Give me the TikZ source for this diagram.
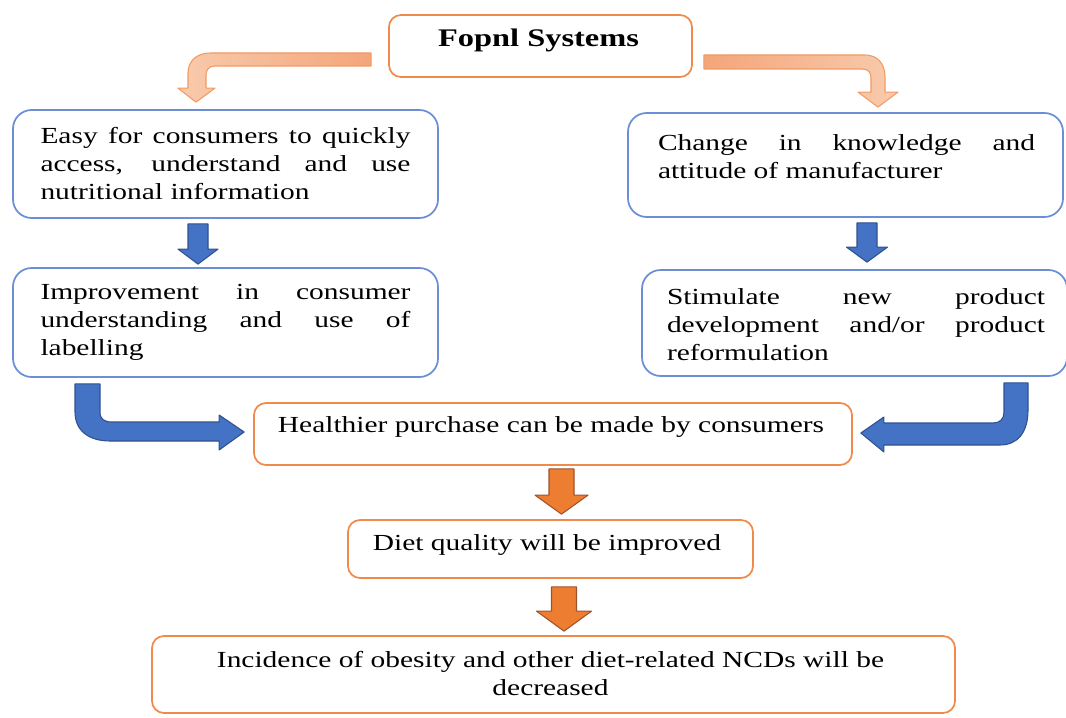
\documentclass[tikz,border=0pt]{standalone}
\usepackage{fontspec}
\setmainfont{Liberation Serif}[FakeStretch=1.28]
\usetikzlibrary{calc}
\definecolor{obord}{HTML}{F08A4B}
\definecolor{bbord}{HTML}{6A8FD6}
\definecolor{barrow}{HTML}{4472C4}
\definecolor{barrowd}{HTML}{2F528F}
\definecolor{oarrow}{HTML}{ED7D31}
\definecolor{oarrowd}{HTML}{A0522D}
\definecolor{loA}{HTML}{F8CBAD}
\definecolor{loB}{HTML}{F4A57A}
\definecolor{lob}{HTML}{F29A62}
\newcommand\BlkDown[6]{%
  \draw[#1] let \p1=#2, \p2=#3 in
   (\x1-#4*0.75pt,\y1) -- (\x1+#4*0.75pt,\y1) -- (\x1+#4*0.75pt,\y2+#6*0.75pt)
   -- (\x1+#5*0.75pt,\y2+#6*0.75pt) -- (\x1,\y2) -- (\x1-#5*0.75pt,\y2+#6*0.75pt)
   -- (\x1-#4*0.75pt,\y2+#6*0.75pt) -- cycle;}
\begin{document}
\begin{tikzpicture}[x=0.75pt,y=-0.75pt,
  bbox/.style={draw=bbord, line width=1.3pt, rounded corners=14pt, fill=white, inner sep=0pt},
  obox/.style={draw=obord, line width=1.3pt, rounded corners=9pt, fill=white, inner sep=0pt},
  txt/.style={font=\fontsize{17.25pt}{21pt}\selectfont, inner sep=0pt},
  jtxt/.style={txt, align=justify},
  bluearrow/.style={fill=barrow, draw=barrowd, line width=0.8pt, line join=round},
  orarrow/.style={fill=oarrow, draw=oarrowd, line width=0.8pt, line join=round},
  lightL/.style={left color=loA, right color=loB, draw=lob, line width=0.8pt, line join=round},
  lightR/.style={left color=loB, right color=loA, draw=lob, line width=0.8pt, line join=round}]
\useasboundingbox (0,0) rectangle (1066,717);
\hyphenpenalty=10000 \exhyphenpenalty=10000 \tolerance=10000 \hbadness=10000

% boxes
\node[obox, minimum width=227.25pt, minimum height=46.5pt] (T) at (540.5,46) {};
\node[txt, font=\fontsize{19pt}{22pt}\selectfont\bfseries] (Tt) at ($(T.center)+(-2,-6)$) {Fopnl Systems};

\node[bbox, minimum width=318.75pt, minimum height=81pt] (A) at (225.5,164) {};
\node[jtxt, text width=277.5pt] (At) at (A.center) {Easy for consumers to quickly\linebreak access, understand and use\linebreak nutritional information};

\node[bbox, minimum width=318.75pt, minimum height=81.75pt] (B) at (225.5,322.5) {};
\node[jtxt, text width=277.5pt] (Bt) at (B.center) {Improvement in consumer\linebreak understanding and use of\linebreak labelling};

\node[bbox, minimum width=326.25pt, minimum height=78pt] (C) at (845.5,165) {};
\node[jtxt, text width=282.75pt] (Ct) at ($(C.center)+(1,-8.5)$) {Change in knowledge and\linebreak attitude of manufacturer};

\node[bbox, minimum width=318.75pt, minimum height=79.5pt] (D) at (854.5,323) {};
\node[jtxt, text width=283.5pt] (Dt) at ($(D.center)+(1.5,1.5)$) {Stimulate new product\linebreak development and/or product\linebreak reformulation};

\node[obox, minimum width=448.5pt, minimum height=46.5pt] (E) at (553,434) {};
\node[txt] (Et) at ($(E.center)+(-2,-7)$) {Healthier purchase can be made by consumers};

\node[obox, minimum width=303.75pt, minimum height=43.5pt] (F) at (550.5,549) {};
\node[txt] (Ft) at ($(F.center)+(-3.5,-4)$) {Diet quality will be improved};

\node[obox, minimum width=602.25pt, minimum height=57.75pt] (G) at (553.5,674.5) {};
\node[txt, align=center] (Gt) at ($(G.center)+(-3,-1)$) {Incidence of obesity and other diet-related NCDs will be\\decreased};

% straight block arrows
\BlkDown{bluearrow}{($(A.south)+(-27.5,5)$)}{($(B.north)+(-27.5,-3)$)}{10}{20}{15}
\BlkDown{bluearrow}{($(C.south)+(21.5,5)$)}{($(D.north)+(12.5,-7)$)}{10}{20.5}{15}
\BlkDown{orarrow}{($(E.south)+(8.5,3)$)}{($(F.north)+(11,-5)$)}{12.5}{26.5}{19}
\BlkDown{orarrow}{($(F.south)+(13.5,8)$)}{($(G.north)+(10,-4)$)}{12.5}{27.5}{20}

% left blue bent arrow B -> E
\path coordinate (lb0) at ($(B.south)+(-138,6)$)
      coordinate (lb1) at ($(E.west)+(-9,-2)$)
      coordinate (lbk) at (lb0 |- lb1);
\draw[bluearrow] ($(lb0)+(-12.5,0)$) -- ($(lb0)+(12.5,0)$) -- ($(lbk)+(12.5,-20)$)
  .. controls ($(lbk)+(12.5,-13)$) and ($(lbk)+(16.5,-10)$) .. ($(lbk)+(24.5,-10)$)
  -- ($(lb1)+(-25,-10)$) -- ($(lb1)+(-25,-17)$) -- (lb1) -- ($(lb1)+(-25,18)$)
  -- ($(lb1)+(-25,9)$) -- ($(lbk)+(22.5,9)$)
  .. controls ($(lbk)+(0.5,9)$) and ($(lbk)+(-12.5,-2)$) .. ($(lbk)+(-12.5,-20)$) -- cycle;

% right blue bent arrow D -> E
\path coordinate (rb0) at ($(D.south)+(161.5,6)$)
      coordinate (rb1) at ($(E.east)+(8,-1)$)
      coordinate (rbk) at (rb0 |- rb1);
\draw[bluearrow] ($(rb0)+(-12,0)$) -- ($(rb0)+(12,0)$) -- ($(rbk)+(12,-23)$)
  .. controls ($(rbk)+(12,-1)$) and ($(rbk)+(2,12)$) .. ($(rbk)+(-16,12)$)
  -- ($(rb1)+(23,12)$) -- ($(rb1)+(23,19)$) -- (rb1) -- ($(rb1)+(23,-16)$)
  -- ($(rb1)+(23,-10)$) -- ($(rbk)+(-23,-10)$)
  .. controls ($(rbk)+(-16,-10)$) and ($(rbk)+(-12,-14)$) .. ($(rbk)+(-12,-21)$) -- cycle;

% top left light orange bent arrow T -> A
\path coordinate (lo0) at ($(T.west)+(-17,13.5)$)
      coordinate (lo1) at ($(A.north)+(-29.5,-7)$)
      coordinate (lok) at (lo1 |- lo0);
\draw[lightL] ($(lo0)+(0,-6.5)$) -- ($(lo0)+(0,6.5)$) -- ($(lok)+(19,6.5)$)
  .. controls ($(lok)+(13,6.5)$) and ($(lok)+(10,10.5)$) .. ($(lok)+(10,15.5)$)
  -- ($(lo1)+(10,-14)$) -- ($(lo1)+(19,-14)$) -- (lo1) -- ($(lo1)+(-18,-14)$)
  -- ($(lo1)+(-8,-14)$) -- ($(lok)+(-8,13.5)$)
  .. controls ($(lok)+(-8,0.5)$) and ($(lok)+(2,-6.5)$) .. ($(lok)+(14,-6.5)$) -- cycle;

% top right light orange bent arrow T -> C
\path coordinate (ro0) at ($(T.east)+(11,16)$)
      coordinate (ro1) at ($(C.north)+(32.5,-5)$)
      coordinate (rok) at (ro1 |- ro0);
\draw[lightR] ($(ro0)+(0,-7)$) -- ($(ro0)+(0,7)$) -- ($(rok)+(-16,7)$)
  .. controls ($(rok)+(-10,7)$) and ($(rok)+(-7,10)$) .. ($(rok)+(-7,16)$)
  -- ($(ro1)+(-7,-15)$) -- ($(ro1)+(-20,-15)$) -- (ro1) -- ($(ro1)+(20,-15)$)
  -- ($(ro1)+(7,-15)$) -- ($(rok)+(7,15)$)
  .. controls ($(rok)+(7,1)$) and ($(rok)+(-1,-7)$) .. ($(rok)+(-13,-7)$) -- cycle;
\end{tikzpicture}
\end{document}
